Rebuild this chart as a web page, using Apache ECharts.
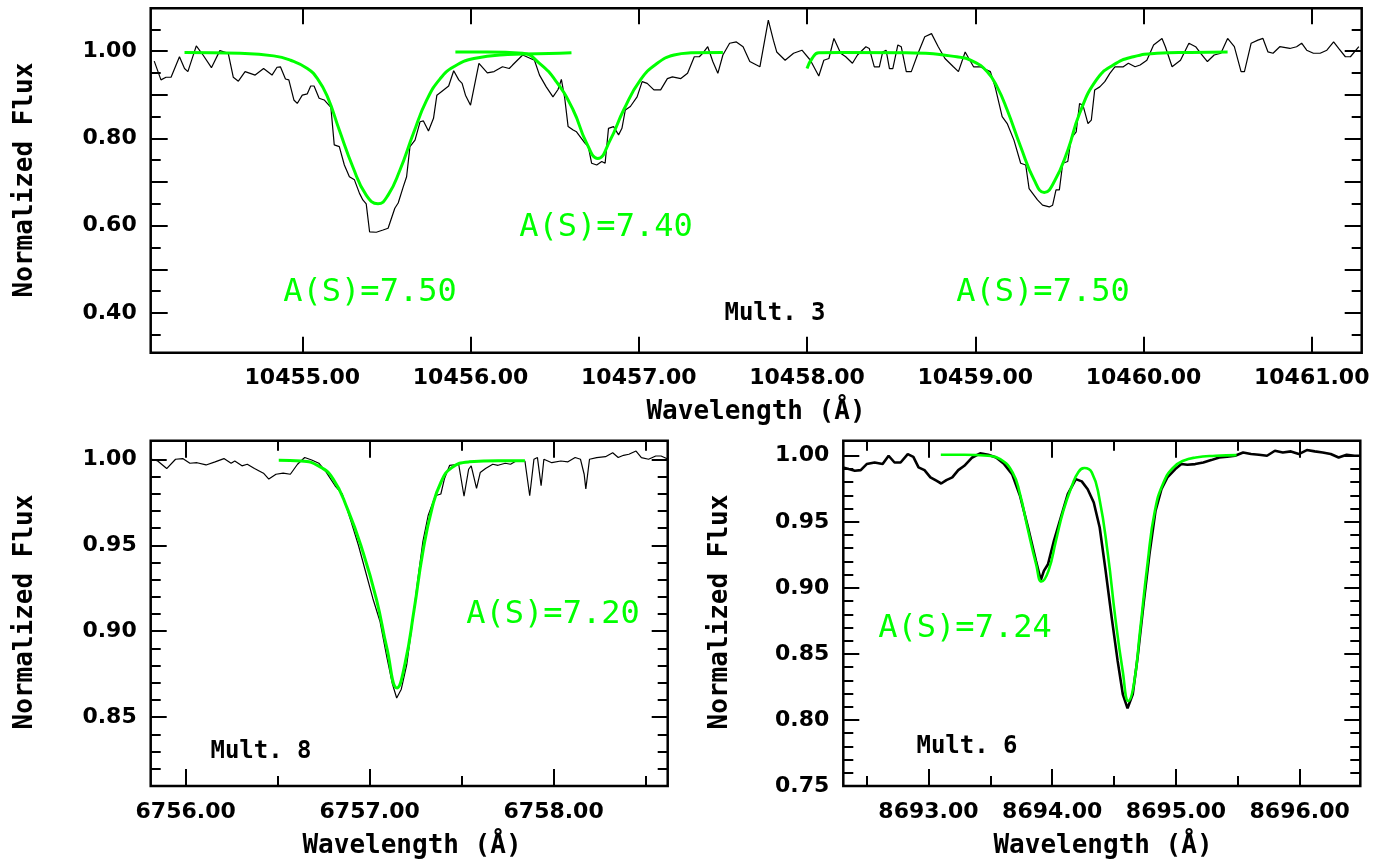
<!DOCTYPE html>
<html>
<head>
<meta charset="utf-8">
<script src="https://cdn.jsdelivr.net/npm/echarts@6/dist/echarts.min.js"></script>
<style>
html,body{margin:0;padding:0;background:#fff;}
#chart{width:1393px;height:863px;}
</style>
</head>
<body>
<div id="chart"></div>
<script>
// ---------------- DATA ----------------
// Mult. 3 panel (top)
const mult3TicksX = [10455, 10456, 10457, 10458, 10459, 10460, 10461];
const mult3LabelsY = [0.4, 0.6, 0.8, 1.0];
const mult3MajorY = [0.4, 0.5, 0.6, 0.7, 0.8, 0.9, 1.0];
const mult3MinorY = [0.35, 0.45, 0.55, 0.65, 0.75, 0.85, 0.95, 1.05];
const mult3Observed = [
 [10454.12,0.977],[10454.16,0.934],[10454.19,0.940],[10454.22,0.940],[10454.27,0.987],[10454.30,0.960],[10454.32,0.953],
 [10454.37,1.012],[10454.41,0.991],[10454.46,0.962],[10454.51,1.001],[10454.56,0.995],[10454.59,0.940],[10454.62,0.931],
 [10454.66,0.953],[10454.72,0.945],[10454.77,0.960],[10454.82,0.945],[10454.85,0.963],[10454.87,0.964],[10454.90,0.936],
 [10454.92,0.934],[10454.95,0.888],[10454.97,0.880],[10455.00,0.899],[10455.03,0.902],[10455.05,0.920],[10455.07,0.920],
 [10455.10,0.892],[10455.13,0.888],[10455.17,0.871],[10455.18,0.869],[10455.19,0.785],[10455.22,0.781],[10455.25,0.739],
 [10455.28,0.712],[10455.31,0.705],[10455.34,0.674],[10455.36,0.659],[10455.38,0.650],[10455.40,0.586],[10455.44,0.585],
 [10455.48,0.590],[10455.51,0.594],[10455.55,0.640],[10455.57,0.652],[10455.60,0.689],[10455.62,0.712],[10455.64,0.781],
 [10455.67,0.796],[10455.70,0.838],[10455.72,0.840],[10455.75,0.817],[10455.78,0.846],[10455.80,0.899],[10455.84,0.911],
 [10455.87,0.920],[10455.90,0.955],[10455.93,0.934],[10455.95,0.926],[10455.97,0.899],[10456.00,0.876],[10456.05,0.972],
 [10456.10,0.950],[10456.14,0.953],[10456.19,0.964],[10456.23,0.960],[10456.25,0.968],[10456.31,0.991],[10456.38,0.979],
 [10456.41,0.945],[10456.45,0.918],[10456.49,0.895],[10456.52,0.912],[10456.54,0.935],[10456.56,0.892],[10456.58,0.827],
 [10456.61,0.819],[10456.63,0.815],[10456.68,0.789],[10456.70,0.781],[10456.72,0.743],[10456.75,0.739],[10456.78,0.747],
 [10456.80,0.743],[10456.82,0.823],[10456.85,0.827],[10456.88,0.808],[10456.90,0.823],[10456.92,0.865],[10456.95,0.873],
 [10456.99,0.895],[10457.02,0.930],[10457.05,0.926],[10457.09,0.911],[10457.13,0.911],[10457.17,0.937],[10457.20,0.941],
 [10457.25,0.937],[10457.29,0.949],[10457.33,0.987],[10457.36,0.987],[10457.38,0.995],[10457.41,1.010],[10457.44,0.976],
 [10457.47,0.949],[10457.50,0.991],[10457.54,1.018],[10457.58,1.021],[10457.62,1.010],[10457.66,0.976],[10457.72,0.964],
 [10457.77,1.071],[10457.80,1.025],[10457.82,0.998],[10457.87,0.979],[10457.92,0.995],[10457.97,1.002],[10458.02,0.979],
 [10458.07,0.943],[10458.10,0.979],[10458.13,0.983],[10458.16,1.029],[10458.17,1.025],[10458.20,0.995],[10458.23,0.987],
 [10458.27,0.972],[10458.30,0.991],[10458.35,1.010],[10458.37,1.006],[10458.40,0.964],[10458.43,0.964],[10458.45,0.998],
 [10458.47,1.002],[10458.49,0.960],[10458.51,0.960],[10458.54,1.014],[10458.56,1.010],[10458.59,0.953],[10458.62,0.953],
 [10458.66,0.995],[10458.70,1.033],[10458.74,1.040],[10458.78,1.010],[10458.82,0.983],[10458.87,0.964],[10458.90,0.953],
 [10458.94,0.998],[10458.99,0.964],[10459.03,0.964],[10459.06,0.958],[10459.09,0.953],[10459.12,0.915],[10459.16,0.850],
 [10459.19,0.834],[10459.23,0.796],[10459.27,0.743],[10459.30,0.739],[10459.32,0.685],[10459.37,0.659],[10459.40,0.647],
 [10459.44,0.643],[10459.46,0.647],[10459.48,0.682],[10459.50,0.682],[10459.52,0.743],[10459.55,0.747],[10459.57,0.800],
 [10459.60,0.815],[10459.62,0.880],[10459.64,0.876],[10459.67,0.834],[10459.69,0.842],[10459.71,0.911],[10459.74,0.918],
 [10459.77,0.930],[10459.80,0.949],[10459.83,0.964],[10459.88,0.964],[10459.91,0.972],[10459.95,0.964],[10459.98,0.968],
 [10460.02,0.979],[10460.06,1.014],[10460.11,1.029],[10460.13,1.010],[10460.17,0.964],[10460.22,0.979],[10460.27,1.018],
 [10460.31,1.010],[10460.34,0.995],[10460.38,0.976],[10460.42,0.991],[10460.46,0.995],[10460.50,1.029],[10460.54,1.010],
 [10460.58,0.953],[10460.60,0.953],[10460.64,1.018],[10460.68,1.025],[10460.71,1.029],[10460.74,0.998],[10460.77,0.995],
 [10460.81,1.010],[10460.87,1.006],[10460.91,1.010],[10460.94,1.018],[10460.97,1.002],[10461.01,0.995],[10461.05,0.995],
 [10461.09,1.002],[10461.13,1.021],[10461.16,1.006],[10461.20,0.987],[10461.23,0.987],[10461.28,1.010]
];
const mult3SynthA = [
 [10454.30,0.997],[10454.63,0.995],[10454.83,0.989],[10454.93,0.979],[10455.03,0.960],[10455.09,0.937],[10455.15,0.895],
 [10455.22,0.819],[10455.30,0.735],[10455.38,0.670],[10455.45,0.650],[10455.51,0.670],[10455.58,0.727],[10455.66,0.811],
 [10455.74,0.888],[10455.82,0.937],[10455.90,0.964],[10456.02,0.983],[10456.22,0.992],[10456.53,0.995],[10456.60,0.996]
];
const mult3SynthB = [
 [10455.91,0.998],[10456.10,0.998],[10456.31,0.995],[10456.41,0.972],[10456.51,0.930],[10456.61,0.865],[10456.69,0.789],
 [10456.756,0.754],[10456.83,0.796],[10456.91,0.865],[10457.01,0.934],[10457.11,0.972],[10457.21,0.991],[10457.31,0.996],
 [10457.50,0.997]
];
const mult3SynthC = [
 [10458.00,0.960],[10458.03,0.983],[10458.07,0.996],[10458.20,0.997],[10458.59,0.996],[10458.89,0.987],[10458.99,0.976],
 [10459.07,0.953],[10459.13,0.918],[10459.19,0.865],[10459.27,0.781],[10459.35,0.705],[10459.41,0.676],[10459.47,0.701],
 [10459.55,0.773],[10459.62,0.857],[10459.72,0.934],[10459.82,0.968],[10459.94,0.987],[10460.08,0.995],[10460.28,0.997],
 [10460.50,0.998]
];

// Mult. 8 panel (bottom left)
const mult8MajorX = [6756, 6757, 6758];
const mult8MinorX = [6756.5, 6757.5, 6758.5];
const mult8LabelsY = [0.85, 0.90, 0.95, 1.00];
const mult8MinorY = [0.82,0.83,0.84,0.86,0.87,0.88,0.89,0.91,0.92,0.93,0.94,0.96,0.97,0.98,0.99];
const mult8Observed = [
 [6755.819,1.0000],[6755.848,0.9990],[6755.897,0.9946],[6755.945,1.0000],[6755.984,1.0004],[6756.023,0.9977],[6756.062,0.9980],
 [6756.111,0.9967],[6756.160,0.9985],[6756.208,1.0004],[6756.247,0.9977],[6756.267,0.9990],[6756.306,0.9962],[6756.335,0.9971],
 [6756.374,0.9946],[6756.423,0.9919],[6756.452,0.9885],[6756.491,0.9913],[6756.530,0.9919],[6756.569,0.9913],[6756.608,0.9971],
 [6756.647,1.0010],[6756.685,0.9996],[6756.724,0.9977],[6756.763,0.9927],[6756.812,0.9846],[6756.851,0.9798],[6756.900,0.9635],
 [6756.939,0.9500],[6756.978,0.9346],[6757.017,0.9192],[6757.056,0.9058],[6757.094,0.8846],[6757.124,0.8692],[6757.147,0.8612],
 [6757.172,0.8663],[6757.202,0.8808],[6757.231,0.9038],[6757.260,0.9288],[6757.289,0.9519],[6757.318,0.9673],[6757.357,0.9788],
 [6757.387,0.9798],[6757.406,0.9885],[6757.435,0.9965],[6757.484,0.9971],[6757.513,0.9785],[6757.538,0.9942],[6757.552,0.9962],
 [6757.581,0.9831],[6757.601,0.9923],[6757.630,0.9946],[6757.669,0.9971],[6757.698,0.9965],[6757.737,0.9977],[6757.766,0.9971],
 [6757.796,0.9990],[6757.844,0.9990],[6757.870,0.9788],[6757.893,1.0000],[6757.912,1.0010],[6757.932,0.9846],[6757.947,1.0000],
 [6757.990,0.9980],[6758.039,0.9990],[6758.078,0.9985],[6758.117,1.0010],[6758.146,1.0000],[6758.166,0.9913],[6758.175,0.9827],
 [6758.195,1.0000],[6758.234,1.0010],[6758.282,1.0015],[6758.321,1.0038],[6758.351,1.0010],[6758.380,1.0023],[6758.409,1.0029],
 [6758.448,1.0048],[6758.477,1.0010],[6758.516,1.0000],[6758.555,1.0019],[6758.584,1.0019],[6758.623,1.0000]
];
const mult8Synth = [
 [6756.506,0.9994],[6756.627,0.9990],[6756.724,0.9960],[6756.802,0.9885],[6756.880,0.9710],[6756.958,0.9480],[6757.036,0.9190],
 [6757.094,0.8900],[6757.149,0.8670],[6757.192,0.8810],[6757.241,0.9120],[6757.289,0.9460],[6757.338,0.9710],[6757.387,0.9865],
 [6757.445,0.9950],[6757.542,0.9985],[6757.698,0.9992],[6757.844,0.9992]
];

// Mult. 6 panel (bottom right)
const mult6MajorX = [8693, 8694, 8695, 8696];
const mult6MinorX = [8692.5, 8693.5, 8694.5, 8695.5];
const mult6LabelsY = [0.75, 0.80, 0.85, 0.90, 0.95, 1.00];
const mult6MinorY = [0.76,0.77,0.78,0.79,0.81,0.82,0.83,0.84,0.86,0.87,0.88,0.89,0.91,0.92,0.93,0.94,0.96,0.97,0.98,0.99];
const mult6Observed = [
 [8692.308,0.9912],[8692.356,0.9899],[8692.405,0.9886],[8692.453,0.9891],[8692.501,0.9937],[8692.565,0.9949],[8692.630,0.9937],
 [8692.678,1.0000],[8692.726,0.9949],[8692.775,0.9949],[8692.833,1.0013],[8692.878,0.9992],[8692.920,0.9912],[8692.968,0.9891],
 [8693.016,0.9836],[8693.064,0.9811],[8693.103,0.9790],[8693.145,0.9816],[8693.193,0.9836],[8693.241,0.9891],[8693.290,0.9924],
 [8693.354,0.9987],[8693.418,1.0018],[8693.483,1.0008],[8693.547,0.9987],[8693.612,0.9937],[8693.676,0.9861],[8693.740,0.9697],
 [8693.805,0.9457],[8693.869,0.9205],[8693.908,0.9058],[8693.933,0.9129],[8693.966,0.9179],[8694.014,0.9356],[8694.078,0.9558],
 [8694.126,0.9710],[8694.191,0.9823],[8694.239,0.9806],[8694.287,0.9747],[8694.336,0.9646],[8694.384,0.9457],[8694.432,0.9129],
 [8694.481,0.8775],[8694.529,0.8447],[8694.571,0.8194],[8694.609,0.8088],[8694.651,0.8194],[8694.690,0.8472],[8694.738,0.8876],
 [8694.786,0.9255],[8694.835,0.9583],[8694.883,0.9747],[8694.931,0.9836],[8694.995,0.9899],[8695.044,0.9937],[8695.092,0.9932],
 [8695.156,0.9937],[8695.221,0.9949],[8695.285,0.9967],[8695.350,0.9987],[8695.414,0.9992],[8695.478,1.0000],[8695.543,1.0025],
 [8695.607,1.0013],[8695.671,1.0008],[8695.736,1.0000],[8695.800,1.0038],[8695.864,1.0025],[8695.929,1.0033],[8695.993,1.0013],
 [8696.058,1.0043],[8696.122,1.0033],[8696.186,1.0025],[8696.251,1.0013],[8696.315,0.9987],[8696.380,1.0008],[8696.444,1.0000],
 [8696.490,1.0000]
];
const mult6Synth = [
 [8693.10,1.0008],[8693.29,1.0008],[8693.48,1.0000],[8693.58,0.9975],[8693.68,0.9874],[8693.74,0.9710],[8693.80,0.9457],
 [8693.87,0.9180],[8693.914,0.9048],[8693.97,0.9129],[8694.03,0.9356],[8694.09,0.9583],[8694.16,0.9773],[8694.21,0.9874],
 [8694.26,0.9907],[8694.32,0.9874],[8694.38,0.9684],[8694.45,0.9255],[8694.51,0.8775],[8694.57,0.8371],[8694.616,0.8144],
 [8694.66,0.8270],[8694.71,0.8674],[8694.77,0.9180],[8694.83,0.9583],[8694.90,0.9798],[8694.98,0.9912],[8695.06,0.9962],
 [8695.16,0.9987],[8695.32,1.0000],[8695.49,1.0005]
];

const panelTexts = {
  mult3: ['A(S)=7.50', 'A(S)=7.40', 'A(S)=7.50', 'Mult. 3'],
  mult8: ['A(S)=7.20', 'Mult. 8'],
  mult6: ['A(S)=7.24', 'Mult. 6']
};
const xTitle = 'Wavelength (Å)';
const yTitle = 'Normalized Flux';

// ---------------- STYLE / LAYOUT ----------------
const GREEN = '#00ff00';
const tickStyle = {color: '#000', width: 2};
const labelFont = {color: '#000', fontFamily: 'DejaVu Sans', fontWeight: 'bold', fontSize: 22};
const fmt2 = v => Number(v).toFixed(2);

const grids = [
  {left: 150.7, top: 8.3, width: 1211, height: 344.4},
  {left: 150.7, top: 440.7, width: 517, height: 345.3},
  {left: 843.3, top: 440.7, width: 517, height: 345.3}
].map(g => Object.assign(g, {show: true, borderColor: '#000', borderWidth: 2.5, backgroundColor: 'transparent', containLabel: false, outerBoundsMode: 'none'}));

const xAxes = [], yAxes = [];
function addX(gi, min, max, major, minor, labels, majLen, minLen) {
  const base = {gridIndex: gi, type: 'value', min: min, max: max, axisLine: {show: false}, splitLine: {show: false}};
  const idx = xAxes.length;
  xAxes.push(Object.assign({}, base, {position: 'bottom',
    axisTick: {show: true, inside: true, length: majLen, customValues: major, lineStyle: tickStyle},
    axisLabel: Object.assign({show: true, customValues: labels, formatter: fmt2, margin: 15}, labelFont)}));
  xAxes.push(Object.assign({}, base, {position: 'top',
    axisTick: {show: true, inside: true, length: majLen, customValues: major, lineStyle: tickStyle},
    axisLabel: {show: false}}));
  if (minor.length) {
    xAxes.push(Object.assign({}, base, {position: 'bottom',
      axisTick: {show: true, inside: true, length: minLen, customValues: minor, lineStyle: tickStyle}, axisLabel: {show: false}}));
    xAxes.push(Object.assign({}, base, {position: 'top',
      axisTick: {show: true, inside: true, length: minLen, customValues: minor, lineStyle: tickStyle}, axisLabel: {show: false}}));
  }
  return idx;
}
function addY(gi, min, max, major, minor, labels, majLen, minLen) {
  const base = {gridIndex: gi, type: 'value', min: min, max: max, axisLine: {show: false}, splitLine: {show: false}};
  const idx = yAxes.length;
  yAxes.push(Object.assign({}, base, {position: 'left',
    axisTick: {show: true, inside: true, length: majLen, customValues: major, lineStyle: tickStyle},
    axisLabel: Object.assign({show: true, customValues: labels, formatter: fmt2, margin: 14}, labelFont)}));
  yAxes.push(Object.assign({}, base, {position: 'right',
    axisTick: {show: true, inside: true, length: majLen, customValues: major, lineStyle: tickStyle},
    axisLabel: {show: false}}));
  if (minor.length) {
    yAxes.push(Object.assign({}, base, {position: 'left',
      axisTick: {show: true, inside: true, length: minLen, customValues: minor, lineStyle: tickStyle}, axisLabel: {show: false}}));
    yAxes.push(Object.assign({}, base, {position: 'right',
      axisTick: {show: true, inside: true, length: minLen, customValues: minor, lineStyle: tickStyle}, axisLabel: {show: false}}));
  }
  return idx;
}

const x0 = addX(0, 10454.099, 10461.297, mult3TicksX, [], mult3TicksX, 16, 9);
const y0 = addY(0, 0.309, 1.098, mult3MajorY, mult3MinorY, mult3LabelsY, 17, 10);
const x1 = addX(1, 6755.81, 6758.62, mult8MajorX, mult8MinorX, mult8MajorX, 17, 10);
const y1 = addY(1, 0.81, 1.0108, mult8LabelsY, mult8MinorY, mult8LabelsY, 16, 10);
const x2 = addX(2, 8692.312, 8696.49, mult6MajorX, mult6MinorX, mult6MajorX, 17, 10);
const y2 = addY(2, 0.75, 1.0114, mult6LabelsY, mult6MinorY, mult6LabelsY, 16, 10);

function obs(data, xi, yi, w) {
  return {type: 'line', data: data, xAxisIndex: xi, yAxisIndex: yi, showSymbol: false, symbol: 'none',
    lineStyle: {color: '#000', width: w}, clip: true, z: 2, silent: true};
}
function syn(data, xi, yi, w) {
  return {type: 'line', data: data, xAxisIndex: xi, yAxisIndex: yi, showSymbol: false, symbol: 'none',
    smooth: 0.5, lineStyle: {color: GREEN, width: w}, clip: true, z: 3, silent: true};
}

function txt(x, y, t, opts) {
  return {type: 'text', x: x, y: y, rotation: opts.rot || 0, z: 100, silent: true,
    style: {text: t, fill: opts.color || '#000', fontSize: opts.size, fontFamily: opts.family,
      fontWeight: opts.weight || 'normal', textAlign: 'center', textVerticalAlign: 'middle',
      align: 'center', verticalAlign: 'middle'}};
}
const greenOpt = {color: GREEN, size: 32, family: 'DejaVu Sans Mono'};
const multOpt = {size: 24, family: 'DejaVu Sans Mono', weight: 'bold'};
const titleOpt = {size: 26, family: 'DejaVu Sans Mono', weight: 'bold'};
const ytitleOpt = {size: 26, family: 'DejaVu Sans Mono', weight: 'bold', rot: Math.PI / 2};

const option = {
  animation: false,
  backgroundColor: '#ffffff',
  grid: grids,
  xAxis: xAxes,
  yAxis: yAxes,
  series: [
    obs(mult3Observed, x0, y0, 1.2),
    syn(mult3SynthA, x0, y0, 3),
    syn(mult3SynthB, x0, y0, 3),
    syn(mult3SynthC, x0, y0, 3),
    obs(mult8Observed, x1, y1, 1.2),
    syn(mult8Synth, x1, y1, 3),
    obs(mult6Observed, x2, y2, 2.6),
    syn(mult6Synth, x2, y2, 2.6)
  ],
  graphic: [
    txt(370, 293, panelTexts.mult3[0], greenOpt),
    txt(606, 228, panelTexts.mult3[1], greenOpt),
    txt(1043, 293, panelTexts.mult3[2], greenOpt),
    txt(775, 314, panelTexts.mult3[3], multOpt),
    txt(553, 615, panelTexts.mult8[0], greenOpt),
    txt(261, 752, panelTexts.mult8[1], multOpt),
    txt(965, 629, panelTexts.mult6[0], greenOpt),
    txt(967, 747, panelTexts.mult6[1], multOpt),
    txt(756, 412, xTitle, titleOpt),
    txt(412, 846, xTitle, titleOpt),
    txt(1103, 846, xTitle, titleOpt),
    txt(25, 180, yTitle, ytitleOpt),
    txt(25, 612, yTitle, ytitleOpt),
    txt(720, 612, yTitle, ytitleOpt)
  ]
};

const chart = echarts.init(document.getElementById('chart'), null, {renderer: 'canvas'});
chart.setOption(option);
</script>
</body>
</html>
